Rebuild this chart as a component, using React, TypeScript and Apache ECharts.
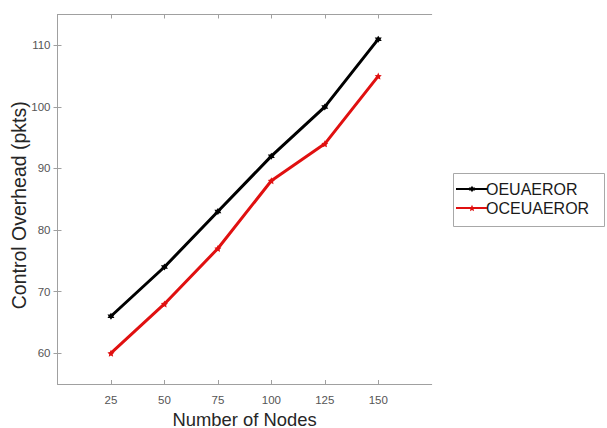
import React, { useEffect, useRef } from "react";
import * as echarts from "echarts";

const nodes = [25, 50, 75, 100, 125, 150];
const oeuaeror = [66, 74, 83, 92, 100, 111];
const oceuaeror = [60, 68, 77, 88, 94, 105];
const xTicks = [25, 50, 75, 100, 125, 150];
const yTicks = [60, 70, 80, 90, 100, 110];
const seriesNames = ["OEUAEROR", "OCEUAEROR"];

const FONT = "Liberation Sans, Arial, sans-serif";
const STAR = "path://M0,-10 L2.9,-4 L9.5,-3.1 L4.7,1.5 L5.9,8.1 L0,5 L-5.9,8.1 L-4.7,1.5 L-9.5,-3.1 L-2.9,-4 Z";
const HEX = "path://M0,-10 L2.9,-5 L8.7,-5 L5.8,0 L8.7,5 L2.9,5 L0,10 L-2.9,5 L-8.7,5 L-5.8,0 L-8.7,-5 L-2.9,-5 Z";

export default function App() {
  const ref = useRef<HTMLDivElement>(null);
  useEffect(() => {
    if (!ref.current) return;
    const chart = echarts.init(ref.current, null, { renderer: "svg" });
    const axisLine = { show: true, lineStyle: { color: "#a0a0a0", width: 1 } };
    const tick = (vals: number[]) => ({ show: true, inside: true, length: 4, customValues: vals, lineStyle: { color: "#a0a0a0" } });
    chart.setOption({
      animation: false,
      backgroundColor: "#ffffff",
      textStyle: { fontFamily: FONT },
      grid: { left: 57.5, top: 14.5, right: 175.3, bottom: 44, containLabel: false, outerBoundsMode: "none" },
      graphic: [
        {
          type: "rect",
          left: 453,
          top: 173,
          shape: { width: 151, height: 53 },
          style: { fill: "#ffffff", stroke: "#a8a8a8", lineWidth: 1 },
          z: 1,
        },
      ],
      legend: {
        orient: "vertical",
        left: 453,
        top: 173,
        data: seriesNames,
        borderWidth: 0,
        padding: [8, 6, 6, 2],
        itemGap: 3,
        itemWidth: 32,
        itemHeight: 8,
        z: 5,
        textStyle: { fontSize: 16, color: "#1a1a1a", fontFamily: FONT, padding: [0, 0, 0, -7] },
      },
      xAxis: [
        {
          type: "value",
          min: 0,
          max: 175,
          name: "Number of Nodes",
          nameLocation: "middle",
          nameGap: 26,
          nameMoveOverlap: false,
          nameTextStyle: { fontSize: 18.4, color: "#262626", fontFamily: FONT },
          axisLine,
          axisTick: tick(xTicks),
          axisLabel: { customValues: xTicks, fontSize: 11.5, color: "#555555", margin: 10, fontFamily: FONT },
          splitLine: { show: false },
        },
        {
          type: "value",
          position: "top",
          min: 0,
          max: 175,
          axisLine,
          axisTick: tick(xTicks),
          axisLabel: { show: false },
          splitLine: { show: false },
        },
      ],
      yAxis: [
        {
          type: "value",
          min: 55,
          max: 115,
          name: "Control Overhead (pkts)",
          nameLocation: "middle",
          nameGap: 29,
          nameMoveOverlap: false,
          nameTextStyle: { fontSize: 19.5, color: "#262626", fontFamily: FONT, padding: [0, 12, 0, 0] },
          axisLine,
          axisTick: tick(yTicks),
          axisLabel: { customValues: yTicks, fontSize: 11.5, color: "#555555", margin: 7, fontFamily: FONT },
          splitLine: { show: false },
        },
        {
          type: "value",
          position: "right",
          min: 55,
          max: 115,
          axisLine,
          axisTick: tick(yTicks),
          axisLabel: { show: false },
          splitLine: { show: false },
        },
      ],
      series: [
        {
          name: seriesNames[0],
          type: "line",
          data: nodes.map((n, i) => [n, oeuaeror[i]]),
          lineStyle: { color: "#000000", width: 3 },
          itemStyle: { color: "#000000" },
          symbol: HEX,
          symbolSize: 7,
        },
        {
          name: seriesNames[1],
          type: "line",
          data: nodes.map((n, i) => [n, oceuaeror[i]]),
          lineStyle: { color: "#e01010", width: 3 },
          itemStyle: { color: "#e01010" },
          symbol: STAR,
          symbolSize: 7,
        },
      ],
    });
    return () => chart.dispose();
  }, []);
  return <div ref={ref} style={{ width: 607, height: 428, position: "absolute", left: 0, top: 0 }} />;
}
